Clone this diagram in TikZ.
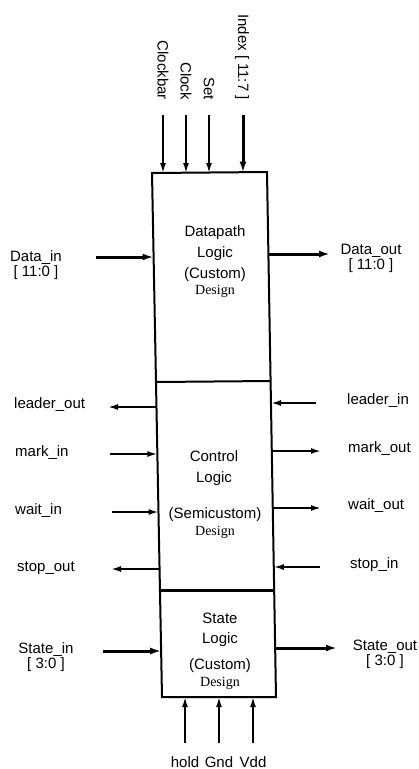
\documentclass[tikz,border=0pt]{standalone}
\usepackage{fontspec}
\setmainfont{Liberation Sans}
\newfontfamily\serifdesign{Liberation Serif}
\usetikzlibrary{arrows.meta}
\begin{document}
\begin{tikzpicture}[x=1pt,y=-1pt,
  lbl/.style={font=\fontsize{15}{13}\selectfont, inner sep=0pt, align=center},
  dsg/.style={font=\serifdesign\fontsize{14}{14}\selectfont, inner sep=0pt},
  thinarrow/.style={line width=1.8pt, -{Latex[length=10pt,width=6pt]}},
  thickarrow/.style={line width=3pt, -{Latex[length=11pt,width=7pt]}},
  blk/.style={line width=2pt}]
\useasboundingbox (0,0) rectangle (419,769);
% box outline
\coordinate (TL) at (152,173);
\coordinate (TR) at (267,172);
\coordinate (BL) at (162,697);
\coordinate (BR) at (276,697);
\coordinate (D1L) at (156,382);
\coordinate (D1R) at (270.5,381);
\coordinate (D2L) at (160,590);
\coordinate (D2R) at (274.2,590);
\draw[blk] (TL) -- (TR) -- (BR) -- (BL) -- cycle;
\draw[blk] (D1L) -- (D1R);
\draw[line width=3pt] (D2L) -- (D2R);
% block texts
\node[lbl] (dp1) at (215,233) {Datapath};
\node[lbl] (dp2) at (215,254) {Logic};
\node[lbl] (dp3) at (215,275) {(Custom)};
\node[dsg] (dp4) at (215,291) {Design};
\node[lbl] (cl1) at (214,456) {Control};
\node[lbl] (cl2) at (214,479) {Logic};
\node[lbl] (cl3) at (215,515) {(Semicustom)};
\node[dsg] (cl4) at (215,532) {Design};
\node[lbl] (st1) at (220,618) {State};
\node[lbl] (st2) at (220,640) {Logic};
\node[lbl] (st3) at (220,666) {(Custom)};
\node[dsg] (st4) at (220,683) {Design};
% top inputs
\node[lbl, rotate=-90, anchor=east] (clkb) at (163,100) {Clockbar};
\node[lbl, rotate=-90, anchor=east] (clk) at (186,100) {Clock};
\node[lbl, rotate=-90, anchor=east] (set) at (209,100) {Set};
\node[lbl, rotate=-90, anchor=east] (idx) at (242,100) {Index [ 11:7 ]};
\coordinate (clkbS) at (163,115); \coordinate (clkbE) at (163,173);
\coordinate (clkS) at (186,115);  \coordinate (clkE) at (186,173);
\coordinate (setS) at (209,115);  \coordinate (setE) at (209,173);
\coordinate (idxS) at (243,115);  \coordinate (idxE) at (243,172.5);
\draw[thinarrow] (clkbS) -- (clkbE);
\draw[thinarrow] (clkS) -- (clkE);
\draw[thinarrow] (setS) -- (setE);
\draw[thickarrow] (idxS) -- (idxE);
% data
\node[lbl] (din) at (36,265) {Data\_in\\{[ 11:0 ]}};
\node[lbl] (dout) at (371,258) {Data\_out\\{[ 11:0 ]}};
\coordinate (dinS) at (96,257); \coordinate (dinE) at (153.6,257);
\coordinate (doutS) at (268.4,254); \coordinate (doutE) at (330,254);
\draw[thickarrow] (dinS) -- (dinE);
\draw[thickarrow] (doutS) -- (doutE);
% control signals left
\node[lbl, anchor=west] (lo) at (14,405) {leader\_out};
\node[lbl, anchor=west] (mi) at (15,453) {mark\_in};
\node[lbl, anchor=west] (wi) at (15,511) {wait\_in};
\node[lbl, anchor=west] (so) at (17,568) {stop\_out};
\coordinate (loS) at (156.5,407); \coordinate (loE) at (108,407);
\coordinate (miS) at (110,454);   \coordinate (miE) at (157.4,454);
\coordinate (wiS) at (112,512);   \coordinate (wiE) at (158.5,512);
\coordinate (soS) at (159.6,569); \coordinate (soE) at (111,569);
\draw[thinarrow] (loS) -- (loE);
\draw[thinarrow] (miS) -- (miE);
\draw[thinarrow] (wiS) -- (wiE);
\draw[thinarrow] (soS) -- (soE);
% control signals right
\node[lbl, anchor=west] (li) at (347,401) {leader\_in};
\node[lbl, anchor=west] (mo) at (348,449) {mark\_out};
\node[lbl, anchor=west] (wo) at (348,506) {wait\_out};
\node[lbl, anchor=west] (si) at (350,565) {stop\_in};
\coordinate (liS) at (316,403);   \coordinate (liE) at (271,403);
\coordinate (moS) at (271.8,451); \coordinate (moE) at (321,451);
\coordinate (woS) at (272.8,508); \coordinate (woE) at (321,508);
\coordinate (siS) at (320,567);   \coordinate (siE) at (273.8,567);
\draw[thinarrow] (liS) -- (liE);
\draw[thinarrow] (moS) -- (moE);
\draw[thinarrow] (woS) -- (woE);
\draw[thinarrow] (siS) -- (siE);
% state
\node[lbl] (sin) at (46,657) {State\_in\\{[ 3:0 ]}};
\node[lbl] (sout) at (385,654) {State\_out\\{[ 3:0 ]}};
\coordinate (sinS) at (103,651); \coordinate (sinE) at (161.2,651);
\coordinate (soutS) at (275.2,648); \coordinate (soutE) at (337,648);
\draw[thickarrow] (sinS) -- (sinE);
\draw[thickarrow] (soutS) -- (soutE);
% bottom inputs
\node[lbl] (hold) at (185,762) {hold};
\node[lbl] (gnd) at (219,762) {Gnd};
\node[lbl] (vdd) at (253,762) {Vdd};
\coordinate (holdS) at (185,743); \coordinate (holdE) at (185,697);
\coordinate (gndS) at (219,743);  \coordinate (gndE) at (219,697);
\coordinate (vddS) at (253,743);  \coordinate (vddE) at (253,697);
\draw[thinarrow] (holdS) -- (holdE);
\draw[thinarrow] (gndS) -- (gndE);
\draw[thinarrow] (vddS) -- (vddE);
\end{tikzpicture}
\end{document}
